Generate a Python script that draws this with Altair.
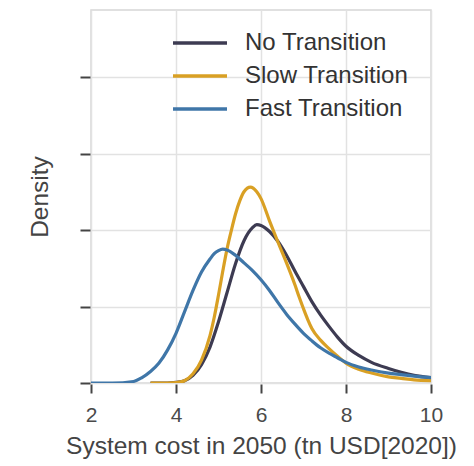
import altair as alt
import pandas as pd

# Density estimates of 2050 system cost per scenario
series_names = ["No Transition", "Slow Transition", "Fast Transition"]
series_colors = ["#3d3b52", "#d9a024", "#3f76a8"]

no_x = [3.4, 3.8, 4.0, 4.2, 4.4, 4.6, 4.8, 5.0, 5.2, 5.4, 5.6, 5.8, 5.9, 6.0,
        6.2, 6.4, 6.6, 6.8, 7.0, 7.2, 7.4, 7.6, 7.8, 8.0, 8.3, 8.6, 9.0, 9.3,
        9.6, 10.0]
no_d = [0.0, 0.0, 0.001, 0.003, 0.010, 0.024, 0.047, 0.080, 0.118, 0.156,
        0.186, 0.203, 0.207, 0.206, 0.198, 0.185, 0.167, 0.146, 0.126, 0.106,
        0.089, 0.074, 0.060, 0.048, 0.036, 0.027, 0.019, 0.014, 0.010, 0.007]

slow_x = [3.4, 3.8, 4.0, 4.2, 4.4, 4.6, 4.8, 4.9, 5.0, 5.1, 5.2, 5.3, 5.4,
          5.5, 5.6, 5.75, 5.9, 6.0, 6.2, 6.4, 6.6, 6.8, 6.9, 7.0, 7.1, 7.2,
          7.4, 7.6, 7.8, 8.0, 8.3, 8.6, 9.0, 9.3, 9.6, 10.0]
slow_d = [0.0, 0.0, 0.0005, 0.003, 0.012, 0.030, 0.062, 0.086, 0.115, 0.146,
          0.175, 0.199, 0.221, 0.238, 0.250, 0.256, 0.250, 0.241, 0.212,
          0.184, 0.157, 0.128, 0.112, 0.097, 0.083, 0.071, 0.056, 0.045,
          0.035, 0.026, 0.018, 0.013, 0.008, 0.006, 0.004, 0.003]

fast_x = [2.0, 2.5, 3.0, 3.2, 3.4, 3.6, 3.8, 4.0, 4.2, 4.4, 4.6, 4.8, 4.9,
          5.0, 5.1, 5.2, 5.4, 5.6, 5.8, 6.0, 6.2, 6.4, 6.6, 6.8, 7.0, 7.2,
          7.4, 7.6, 7.8, 8.0, 8.3, 8.6, 9.0, 9.3, 9.6, 10.0]
fast_d = [0.0, 0.0, 0.002, 0.007, 0.015, 0.026, 0.043, 0.065, 0.093, 0.121,
          0.145, 0.162, 0.169, 0.173, 0.175, 0.174, 0.167, 0.157, 0.147,
          0.135, 0.121, 0.105, 0.090, 0.077, 0.065, 0.055, 0.046, 0.039,
          0.033, 0.027, 0.021, 0.017, 0.013, 0.011, 0.009, 0.007]

x_ticks = [2, 4, 6, 8, 10]
y_ticks = [0.0, 0.1, 0.2, 0.3, 0.4]

frames = []
for i, (name, xs, ds) in enumerate(zip(series_names, [no_x, slow_x, fast_x],
                                       [no_d, slow_d, fast_d])):
    frames.append(pd.DataFrame({"cost": xs, "density": ds,
                                "scenario": name, "order": i}))
df = pd.concat(frames, ignore_index=True)

font = "Liberation Sans"

chart = alt.Chart(df).mark_line(
    strokeWidth=3.2, interpolate="monotone", clip=True
).encode(
    x=alt.X("cost:Q",
            scale=alt.Scale(domain=[2, 10], nice=False, zero=False),
            axis=alt.Axis(title="System cost in 2050 (tn USD[2020])",
                          values=x_ticks, format="d", grid=True,
                          gridColor="#e2e2e2", gridWidth=1.5,
                          domain=False, ticks=True, tickSize=9, offset=1,
                          tickColor="#444444", tickWidth=2,
                          labelFlush=False,
                          labelFont=font, labelFontSize=21,
                          labelColor="#4a4a4a", labelPadding=11,
                          titleFont=font, titleFontSize=24.5,
                          titleFontWeight="normal", titleColor="#444444",
                          titleBaseline="alphabetic", titleY=69)),
    y=alt.Y("density:Q",
            scale=alt.Scale(domain=[0, 0.4876], nice=False),
            axis=alt.Axis(title="Density", values=y_ticks, labels=False,
                          grid=True, gridColor="#e2e2e2", gridWidth=1.5,
                          domain=False, ticks=True, tickSize=10, offset=1,
                          tickColor="#444444", tickWidth=2,
                          titleFont=font, titleFontSize=24.5,
                          titleFontWeight="normal", titleColor="#444444",
                          titleBaseline="alphabetic", titleX=-42.5)),
    color=alt.Color("scenario:N",
                    scale=alt.Scale(domain=series_names, range=series_colors),
                    legend=alt.Legend(title=None, orient="none",
                                      legendX=80, legendY=20,
                                      symbolType="M-1,0H1",
                                      symbolSize=2916, symbolStrokeWidth=3.5,
                                      clipHeight=26, rowPadding=7,
                                      labelOffset=16, padding=0,
                                      labelFont=font, labelFontSize=24,
                                      labelColor="#333333",
                                      labelLimit=300)),
    detail="scenario:N",
    order="order:Q",
).properties(
    width=340,
    height=373,
    autosize=alt.AutoSizeParams(type="none"),
    padding={"left": 91, "top": 10, "right": 43, "bottom": 83},
    background="white",
).configure_view(
    stroke="#d6d6d6", strokeWidth=1.5
)

chart.save("out.html", embed_options={"renderer": "svg", "actions": False})
